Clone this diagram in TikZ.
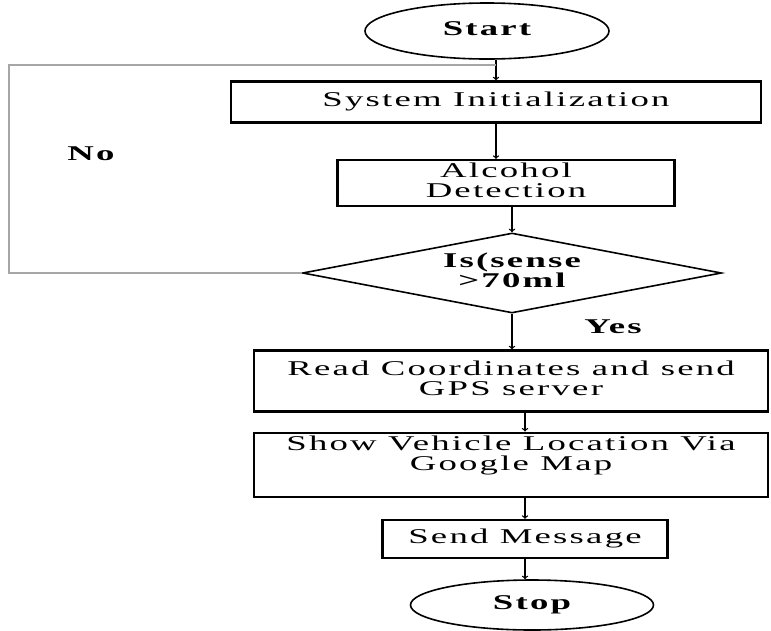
\documentclass[tikz,border=0pt]{standalone}
\usepackage{fontspec}
\usepackage{graphicx}
\usepackage{tikz}
\usetikzlibrary{shapes.geometric}
\usetikzlibrary{positioning}
\newfontfamily\chartfont[LetterSpace=6]{Liberation Serif}
\newcommand{\wide}[1]{\scalebox{1.75}[1]{\begin{tabular}{@{}c@{}}#1\end{tabular}}}
\tikzset{every picture/.style={line width=1pt,x=1pt,y=1pt},every node/.style={font=\chartfont\fontsize{21}{18}\selectfont,align=center}}
\tikzset{block/.style={rectangle, draw, line width=2.3pt},terminal/.style={ellipse, draw, line width=1.6pt, inner sep=0pt},decision/.style={diamond, draw, aspect=5.2, inner sep=0pt, line width=1.6pt},boldtext/.style={font=\chartfont\bfseries\fontsize{21}{18}\selectfont},flow/.style={->, line width=1.3pt},loopline/.style={draw=gray!70, line width=1.3pt}}

\begin{document}
\begin{tikzpicture}
\useasboundingbox (0,0) rectangle (771,-630);

\node (start) at (487,-31) [terminal, boldtext, minimum width=244pt, minimum height=56pt] {\wide{Start}};
\node (init) [below of=start, node distance=71pt, xshift=9pt, block, minimum width=530pt, minimum height=41pt] {\wide{System Initialization}};
\node (alc) [below of=init, node distance=81pt, xshift=10pt, block, minimum width=337pt, minimum height=42pt] {\wide{Alcohol\\Detection}};
\node (dec) [below of=alc, node distance=90pt, xshift=6pt, decision, boldtext, minimum width=419pt, minimum height=80pt] {\wide{Is(sense\\>70ml}};

\node (read) [below of=dec, node distance=108pt, xshift=-1pt, block, minimum width=514pt, minimum height=61pt] {\wide{Read Coordinates and send\\GPS server}};
\node (show) [below of=read, node distance=84pt, block, minimum width=514pt, minimum height=62pt] {\wide{Show Vehicle Location Via\\Google Map\\\mbox{}}};
\node (msg) [below of=show, node distance=74pt, xshift=14pt, block, minimum width=285pt, minimum height=38pt] {\wide{Send Message}};
\node (stop) [below of=msg, node distance=66pt, xshift=7pt, terminal, boldtext, minimum width=243pt, minimum height=50pt] {\wide{Stop}};

\node (yes) [below of=dec, node distance=56pt, xshift=101pt, boldtext] {\wide{Yes}};
\node (no) at (91,-156) [boldtext] {\wide{No}};

% main flow
\draw[flow] (start.south -| init.north) -- (init.north);
\draw[flow] (init.south) -- (init.south |- alc.north);
\draw[flow] (dec.north |- alc.south) -- (dec.north);
\draw[flow] (dec.south) -- (dec.south |- read.north);
\draw[flow] (msg.north |- read.south) -- (msg.north |- show.north);
\draw[flow] (msg.north |- show.south) -- (msg.north);
\draw[flow] (msg.south) -- (msg.south |- stop.north);

% no branch back to the top
\coordinate (corner) at (9,-65);
\draw[loopline] (dec.west) -| (corner) -- (corner -| init.north);
\end{tikzpicture}
\end{document}
